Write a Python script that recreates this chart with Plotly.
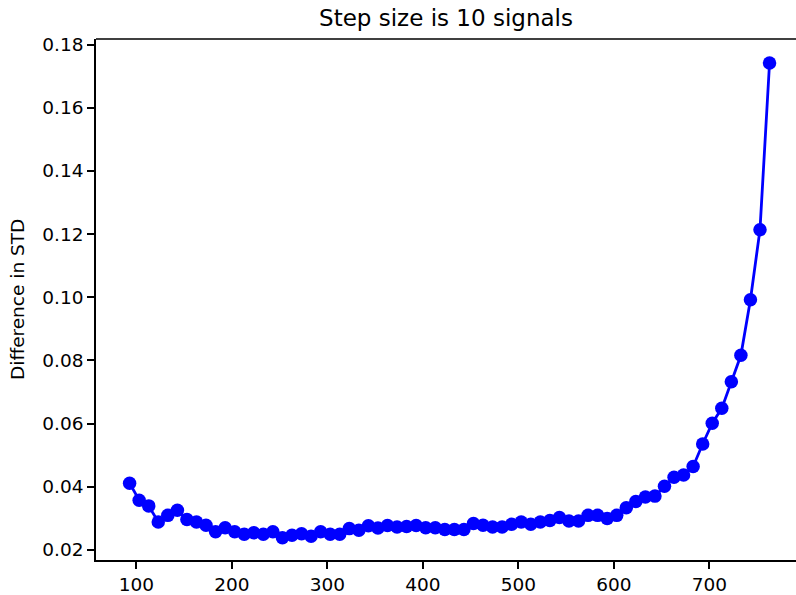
import plotly.graph_objects as go

x_values = [93, 103, 113, 123, 133, 143, 153, 163, 173, 183,
            193, 203, 213, 223, 233, 243, 253, 263, 273, 283,
            293, 303, 313, 323, 333, 343, 353, 363, 373, 383,
            393, 403, 413, 423, 433, 443, 453, 463, 473, 483,
            493, 503, 513, 523, 533, 543, 553, 563, 573, 583,
            593, 603, 613, 623, 633, 643, 653, 663, 673, 683,
            693, 703, 713, 723, 733, 743, 753, 763]

std_diff = [0.0411, 0.0357, 0.0339, 0.0288, 0.0309, 0.0325, 0.0296, 0.0288, 0.0278, 0.0257,
            0.0270, 0.0257, 0.0249, 0.0254, 0.0249, 0.0257, 0.0238, 0.0246, 0.0251, 0.0243,
            0.0257, 0.0249, 0.0249, 0.0267, 0.0262, 0.0276, 0.0269, 0.0277, 0.0272, 0.0274,
            0.0277, 0.0270, 0.0270, 0.0264, 0.0264, 0.0264, 0.0283, 0.0278, 0.0272, 0.0272,
            0.0281, 0.0288, 0.0281, 0.0288, 0.0293, 0.0302, 0.0291, 0.0291, 0.0309, 0.0309,
            0.0299, 0.0309, 0.0333, 0.0353, 0.0367, 0.0370, 0.0401, 0.0430, 0.0437, 0.0464,
            0.0535, 0.0601, 0.0648, 0.0732, 0.0816, 0.0992, 0.1214, 0.1742]

x_ticks = [100, 200, 300, 400, 500, 600, 700]
y_ticks = [0.02, 0.04, 0.06, 0.08, 0.10, 0.12, 0.14, 0.16, 0.18]
y_tick_labels = ["0.02", "0.04", "0.06", "0.08", "0.10", "0.12", "0.14", "0.16", "0.18"]

title_text = "Step size is 10 signals"
y_label = "Difference in STD"

FONT = "DejaVu Sans"

fig = go.Figure()
fig.add_trace(go.Scatter(
    x=x_values, y=std_diff, mode="lines+markers",
    line=dict(color="#0000FF", width=2.8),
    marker=dict(color="#0000FF", size=13.5, line=dict(width=0)),
    showlegend=False,
))

axis_common = dict(
    showline=True, linecolor="#000000", linewidth=1.5,
    ticks="outside", ticklen=7, tickwidth=1.5, tickcolor="#000000",
    showgrid=False, zeroline=False, mirror=False,
    tickfont=dict(family=FONT, size=18.5, color="#000000"),
)

fig.update_layout(
    width=796, height=595,
    margin=dict(l=96, r=0, t=39, b=32),
    paper_bgcolor="white", plot_bgcolor="white",
    font=dict(family=FONT, color="#000000"),
    title=dict(text=title_text, x=0.5, xref="paper", xanchor="center",
               y=1 - 18 / 595, yref="container", yanchor="middle",
               font=dict(family=FONT, size=23, color="#000000")),
    xaxis=dict(range=[57.8, 790.7], tickvals=x_ticks, **axis_common),
    yaxis=dict(range=[0.01676, 0.1818], tickvals=y_ticks, ticktext=y_tick_labels, **axis_common),
    shapes=[dict(type="line", xref="paper", yref="paper", x0=0, x1=1, y0=1, y1=1,
                 line=dict(color="#000000", width=1.5))],
    annotations=[dict(text=y_label, xref="paper", yref="paper",
                      x=-(96 - 17.5) / 700, y=0.5, xanchor="center", yanchor="middle",
                      textangle=-90, showarrow=False,
                      font=dict(family=FONT, size=18.5, color="#000000"))],
)

fig.write_html("out.html")
